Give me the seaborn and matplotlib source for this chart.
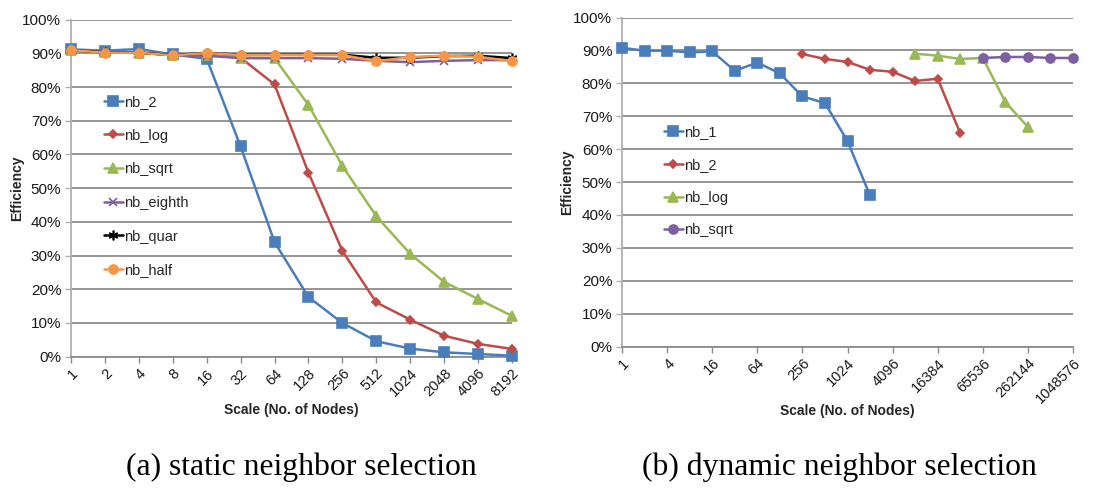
import matplotlib
matplotlib.use("Agg")
import matplotlib.pyplot as plt
import seaborn as sns
import pandas as pd

# ---- static neighbor selection (efficiency in %) ----
static_nodes = [1, 2, 4, 8, 16, 32, 64, 128, 256, 512, 1024, 2048, 4096, 8192]
static_nb_2 = [91.2, 90.8, 91.3, 89.7, 88.4, 62.4, 34.0, 17.7, 10.0, 4.6, 2.4, 1.3, 0.8, 0.3]
static_nb_log = [91.0, 90.3, 90.2, 89.6, 89.6, 88.7, 80.8, 54.6, 31.4, 16.1, 11.0, 6.2, 3.8, 2.3]
static_nb_sqrt = [91.0, 90.3, 90.2, 89.6, 89.6, 88.7, 88.6, 74.7, 56.6, 41.7, 30.5, 22.2, 17.1, 12.1]
static_nb_eighth = [91.0, 90.3, 90.2, 89.5, 89.3, 88.6, 88.6, 88.6, 88.4, 87.8, 87.4, 87.8, 88.0, 88.0]
static_nb_quar = [91.0, 90.3, 90.2, 89.5, 90.1, 89.6, 89.6, 89.6, 89.6, 88.7, 88.7, 89.2, 89.3, 88.6]
static_nb_half = [91.0, 90.2, 90.2, 89.4, 90.1, 89.5, 89.5, 89.5, 89.5, 87.7, 88.9, 89.3, 89.0, 87.7]

# ---- dynamic neighbor selection (efficiency in %) ----
dyn_nb_1_nodes = [1, 2, 4, 8, 16, 32, 64, 128, 256, 512, 1024, 2048]
dyn_nb_1 = [90.8, 89.9, 89.9, 89.4, 89.7, 83.8, 86.3, 83.0, 76.0, 74.0, 62.4, 45.9]
dyn_nb_2_nodes = [256, 512, 1024, 2048, 4096, 8192, 16384, 32768]
dyn_nb_2 = [88.9, 87.4, 86.5, 84.1, 83.5, 80.7, 81.4, 64.8]
dyn_nb_log_nodes = [8192, 16384, 32768, 65536, 131072, 262144]
dyn_nb_log = [89.0, 88.4, 87.4, 87.7, 74.3, 66.7]
dyn_nb_sqrt_nodes = [65536, 131072, 262144, 524288, 1048576]
dyn_nb_sqrt = [87.7, 88.0, 88.0, 87.7, 87.7]

static_ticks = static_nodes
dynamic_ticks = [1, 4, 16, 64, 256, 1024, 4096, 16384, 65536, 262144, 1048576]
y_ticks = list(range(0, 101, 10))
y_tick_labels = [f"{v}%" for v in y_ticks]

BLUE = "#4A7EBB"
RED = "#BE4B48"
GREEN = "#98B954"
PURPLE = "#7D60A0"
BLACK = "#000000"
ORANGE = "#F79646"
GRID = "#8C8C8C"

sns.set_theme(style="white")
plt.rcParams["font.family"] = ["Liberation Sans", "DejaVu Sans"]

fig = plt.figure(figsize=(10.99, 4.93), dpi=100)
W, H = 1099, 493


def make_axes(x0, x1, ytop, ybot):
    return fig.add_axes([x0 / W, 1 - ybot / H, (x1 - x0) / W, (ybot - ytop) / H])


ax1 = make_axes(71, 512, 19.7, 356.7)
ax2 = make_axes(622, 1073, 17.5, 346.5)

static_series = [
    ("nb_2", static_nb_2, BLUE, "s", 6.5),
    ("nb_log", static_nb_log, RED, "D", 4.0),
    ("nb_sqrt", static_nb_sqrt, GREEN, "^", 6.5),
    ("nb_eighth", static_nb_eighth, PURPLE, "x", 6.0),
    ("nb_quar", static_nb_quar, BLACK, (6, 2, 0), 7.0),
    ("nb_half", static_nb_half, ORANGE, "o", 6.5),
]
for i, (name, vals, color, marker, ms) in enumerate(static_series):
    df = pd.DataFrame({"nodes": static_nodes, "eff": vals})
    sns.lineplot(data=df, x="nodes", y="eff", ax=ax1, color=color, marker=marker,
                 markersize=ms, markeredgecolor=color, markeredgewidth=1.2,
                 linewidth=1.8, label=name, zorder=3 + i, clip_on=False)

dynamic_series = [
    ("nb_1", dyn_nb_1_nodes, dyn_nb_1, BLUE, "s", 6.5),
    ("nb_2", dyn_nb_2_nodes, dyn_nb_2, RED, "D", 4.0),
    ("nb_log", dyn_nb_log_nodes, dyn_nb_log, GREEN, "^", 6.5),
    ("nb_sqrt", dyn_nb_sqrt_nodes, dyn_nb_sqrt, PURPLE, "o", 6.5),
]
for i, (name, xs, vals, color, marker, ms) in enumerate(dynamic_series):
    df = pd.DataFrame({"nodes": xs, "eff": vals})
    sns.lineplot(data=df, x="nodes", y="eff", ax=ax2, color=color, marker=marker,
                 markersize=ms, markeredgecolor=color, markeredgewidth=1.2,
                 linewidth=1.8, label=name, zorder=3 + i, clip_on=False)

for ax, ticks, xmax in [(ax1, static_ticks, 8192), (ax2, dynamic_ticks, 1048576)]:
    ax.set_xscale("log", base=2)
    ax.set_xlim(1, xmax)
    ax.set_xticks(ticks)
    ax.set_xticklabels([str(t) for t in ticks], rotation=45, ha="right",
                       rotation_mode="anchor", fontsize=10.5, color="#1a1a1a")
    ax.minorticks_off()
    ax.set_ylim(0, 100)
    ax.set_yticks(y_ticks)
    ax.set_yticklabels(y_tick_labels, fontsize=11, color="#1a1a1a")
    ax.yaxis.grid(True, color=GRID, linewidth=1.3)
    ax.xaxis.grid(False)
    ax.set_axisbelow(True)
    for side in ("top", "right"):
        ax.spines[side].set_visible(False)
    ax.spines["left"].set_color("#B0B0B0")
    ax.spines["left"].set_linewidth(1.3)
    ax.spines["bottom"].set_color(GRID)
    ax.spines["bottom"].set_linewidth(1.3)
    ax.tick_params(axis="x", which="major", direction="out", length=4, width=1,
                   color=GRID, bottom=True, pad=3)
    ax.tick_params(axis="y", which="major", direction="out", length=4, width=1,
                   color="#B0B0B0", left=True, pad=3)
    ax.set_xlabel("Scale (No. of Nodes)", fontsize=10, fontweight="bold")
    ax.set_ylabel("Efficiency", fontsize=10, fontweight="bold")

# axis label placement (pixel-based, converted to axes fractions)
ax1.xaxis.set_label_coords(0.5, -(410 - 356.7) / 337)
ax2.xaxis.set_label_coords(0.5, -(411 - 346.5) / 329)
ax1.yaxis.set_label_coords(-(71 - 17) / 441, 0.5)
ax2.yaxis.set_label_coords(-(622 - 567) / 451, 0.5)
for ax in (ax1, ax2):
    ax.xaxis.label.set_va("center")
    ax.yaxis.label.set_va("center")

ax1.legend(loc="upper left", bbox_to_anchor=((98 - 71) / 441, 0.7944),
           frameon=False, fontsize=10.5, handlelength=1.3, handletextpad=0.1,
           labelspacing=1.35, borderaxespad=0)
ax2.legend(loc="upper left", bbox_to_anchor=((658 - 622) / 451, 0.69),
           frameon=False, fontsize=10.5, handlelength=1.3, handletextpad=0.1,
           labelspacing=1.28, borderaxespad=0)

caption_font = ["Liberation Serif", "DejaVu Serif"]
fig.text(301 / W, 1 - 467 / H, "(a) static neighbor selection", ha="center", va="center",
         fontsize=22.8, family=caption_font, color="black")
fig.text(839 / W, 1 - 467 / H, "(b) dynamic neighbor selection", ha="center", va="center",
         fontsize=22.8, family=caption_font, color="black")

fig.savefig("out.png", dpi=100)
